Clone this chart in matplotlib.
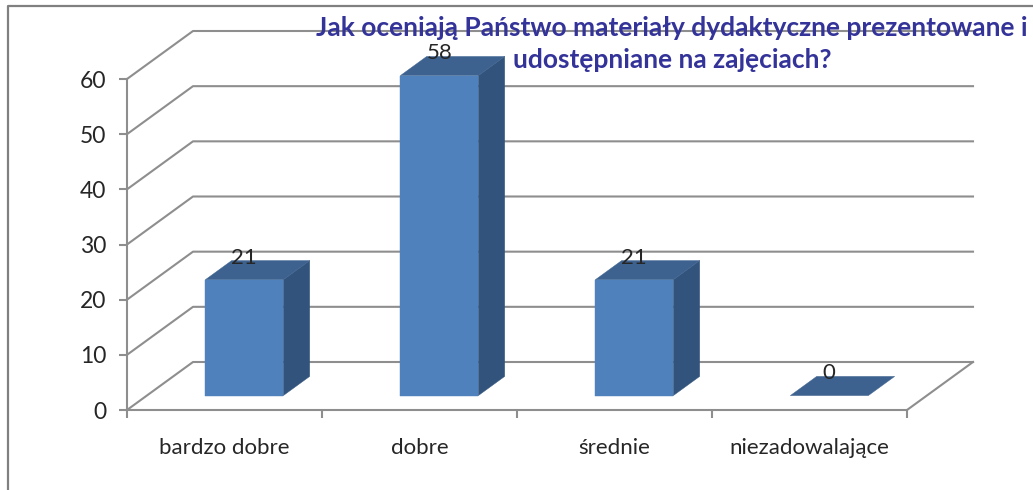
#!/usr/bin/env python3
# -*- coding: utf-8 -*-
"""Wykres słupkowy 3D (rzut ukośny) - ocena materiałów dydaktycznych."""

from matplotlib.lines import Line2D
import matplotlib
matplotlib.use("Agg")
import matplotlib.pyplot as plt

categories = ["bardzo dobre", "dobre", "średnie", "niezadowalające"]
values = [21, 58, 21, 0]
y_ticks = [0, 10, 20, 30, 40, 50, 60]
title_lines = ["Jak oceniają Państwo materiały dydaktyczne prezentowane i",
               "udostępniane na zajęciach?"]

W, H = 1033, 490
# front plane of the chart, in pixels
LEFT, RIGHT, TOP, BOTTOM = 127, 907, 79, 410
UNIT_X = (RIGHT - LEFT) / len(categories)
UNIT_Y = (BOTTOM - TOP) / max(y_ticks)
# full depth of the floor, in data units
DEPTH_X = 66 / UNIT_X
DEPTH_Y = 48 / UNIT_Y

GRID = "#8e8e8e"
TEXT = "#262626"
FRONT = "#4f81bd"
SIDE = "#32547c"
CAP = "#3d628f"
FONT = ["Lato", "DejaVu Sans"]


def proj(x, y, d):
    """Oblique projection: depth d in 0..1 shifts right and up."""
    return x + d * DEPTH_X, y + d * DEPTH_Y


def face(ax, pts, color, z):
    xs, ys = zip(*[proj(*p) for p in pts])
    ax.fill(xs, ys, color=color, lw=0.3, zorder=z, clip_on=False)


fig = plt.figure(figsize=(W / 100, H / 100), dpi=100)
ax = fig.add_axes([LEFT / W, 1 - BOTTOM / H, (RIGHT - LEFT) / W, (BOTTOM - TOP) / H])
ax.set_xlim(0, len(categories))
ax.set_ylim(0, max(y_ticks))
ax.patch.set_visible(False)

# picture frame, only top and left are visible
fig.add_artist(Line2D([8 / W, 8 / W, 1], [0, 1 - 6 / H, 1 - 6 / H], color="#808080", lw=1.6))

# walls and gridlines
n = len(categories)
for v in y_ticks:
    xs, ys = zip(proj(0, v, 0), proj(0, v, 1), proj(n, v, 1))
    ax.plot(xs, ys, color=GRID, lw=1.5, zorder=1, clip_on=False)
xs, ys = zip(proj(n, 0, 0), proj(n, 0, 1))
ax.plot(xs, ys, color=GRID, lw=1.5, zorder=1, clip_on=False)

# bars
for i, v in enumerate(values):
    x0, x1 = i + 0.3, i + 0.7
    d0, d1 = 0.3, 0.7
    if v > 0:
        face(ax, [(x1, 0, d0), (x1, 0, d1), (x1, v, d1), (x1, v, d0)], SIDE, 3)
        face(ax, [(x0, 0, d0), (x1, 0, d0), (x1, v, d0), (x0, v, d0)], FRONT, 4)
    face(ax, [(x0, v, d0), (x1, v, d0), (x1, v, d1), (x0, v, d1)], CAP, 3)
    lx, ly = proj(i + 0.5, v, d0)
    ax.annotate(str(v), (lx, ly), xytext=(0, 16), textcoords="offset points",
                ha="center", va="center", fontsize=16, color=TEXT,
                family=FONT, zorder=6, annotation_clip=False)

# axes
for side in ["top", "right"]:
    ax.spines[side].set_visible(False)
for side in ["left", "bottom"]:
    ax.spines[side].set_color(GRID)
    ax.spines[side].set_linewidth(1.5)
    ax.spines[side].set_zorder(2)

ax.set_yticks(y_ticks)
ax.set_xticks(range(n + 1))
ax.set_xticklabels([])
ax.set_xticks([i + 0.5 for i in range(n)], minor=True)
ax.set_xticklabels(categories, minor=True, family=FONT, fontsize=16, color=TEXT)
ax.tick_params(axis="x", which="major", length=6, width=1.5, color=GRID)
ax.tick_params(axis="x", which="minor", length=0, pad=20)
ax.tick_params(axis="y", length=6, width=1.5, color=GRID, labelsize=16.5,
               labelcolor=TEXT, pad=9)
for lab in ax.get_yticklabels():
    lab.set_family(FONT)

for line, y_px in zip(title_lines, [28, 60]):
    fig.text(672 / W, 1 - y_px / H, line, ha="center", va="center", fontsize=19,
             fontweight="bold", color="#333399", family=FONT, zorder=10)

fig.savefig("out.png", dpi=100)
